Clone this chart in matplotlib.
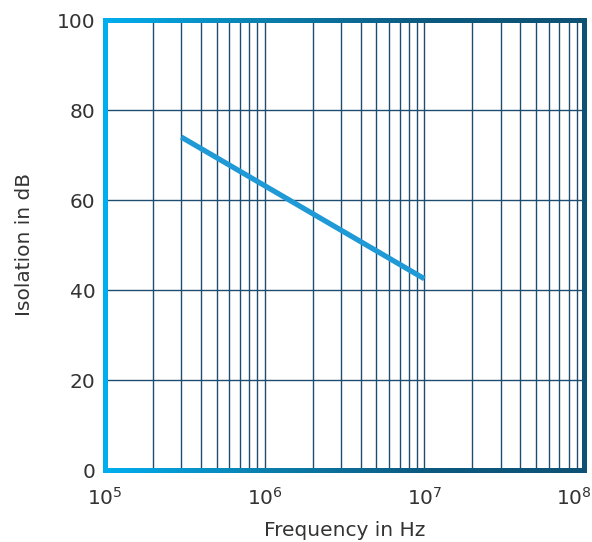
import numpy as np
import matplotlib.pyplot as plt
import matplotlib.transforms as mtrans
from matplotlib.collections import LineCollection
from matplotlib.colors import LinearSegmentedColormap

# data
freq = [3e5, 1e7]
isolation = [74.0, 42.5]
yticks = [0, 20, 40, 60, 80, 100]
xticks = [1e5, 1e6, 1e7, 1e8]
xticklabels = ['$10^5$', '$10^6$', '$10^7$', '$10^8$']

fig = plt.figure(figsize=(5.92, 5.42), dpi=100)
ax = fig.add_axes([105 / 592, 72 / 542, 479 / 592, 450 / 542])

ax.set_xscale('log')
ax.set_xlim(1e5, 1e8)
ax.set_ylim(0, 100)

# grid
grid_col = '#1d4d70'
for dec in [1e5, 1e6, 1e7]:
    for m in range(1, 10):
        xv = dec * m
        if xv > 1e5:
            ax.axvline(xv, color=grid_col, lw=1.0, zorder=1)
for yv in yticks[1:-1]:
    ax.axhline(yv, color=grid_col, lw=1.0, zorder=1)

ax.plot(freq, isolation, color='#1f9ad6', lw=3.8, solid_capstyle='butt', zorder=3)

ax.set_xticks(xticks)
ax.set_xticklabels(xticklabels)
ax.set_yticks(yticks)
ax.minorticks_off()
ax.tick_params(length=0, labelsize=14.5, labelcolor='#333333')
ax.tick_params(axis='x', pad=12)
ax.tick_params(axis='y', pad=7)
ax.set_xlabel('Frequency in Hz', fontsize=14.5, color='#333333', labelpad=9)
ax.set_ylabel('Isolation in dB', fontsize=14.5, color='#333333', labelpad=16)

# nudge the last x label inside the figure
lbls = ax.get_xticklabels()
lbls[-1].set_transform(lbls[-1].get_transform() +
                       mtrans.ScaledTranslation(-10 / 100, 0, fig.dpi_scale_trans))

for s in ax.spines.values():
    s.set_visible(False)

# gradient frame
cmap = LinearSegmentedColormap.from_list('frame', ['#00aeef', '#0a7fad', '#0b5a80', '#0d5274'])
n = 200
xs = np.linspace(0, 1, n + 1)
segs = []
cols = []
for y0 in [0, 1]:
    for i in range(n):
        segs.append([(xs[i], y0), (xs[i + 1], y0)])
        cols.append(cmap((xs[i] + xs[i + 1]) / 2))
segs.append([(0, 0), (0, 1)])
cols.append(cmap(0.0))
segs.append([(1, 0), (1, 1)])
cols.append(cmap(1.0))
lc = LineCollection(segs, colors=cols, linewidths=3.6, transform=ax.transAxes,
                    clip_on=False, zorder=5, capstyle='projecting')
ax.add_collection(lc)

fig.savefig('out.png', dpi=100)
